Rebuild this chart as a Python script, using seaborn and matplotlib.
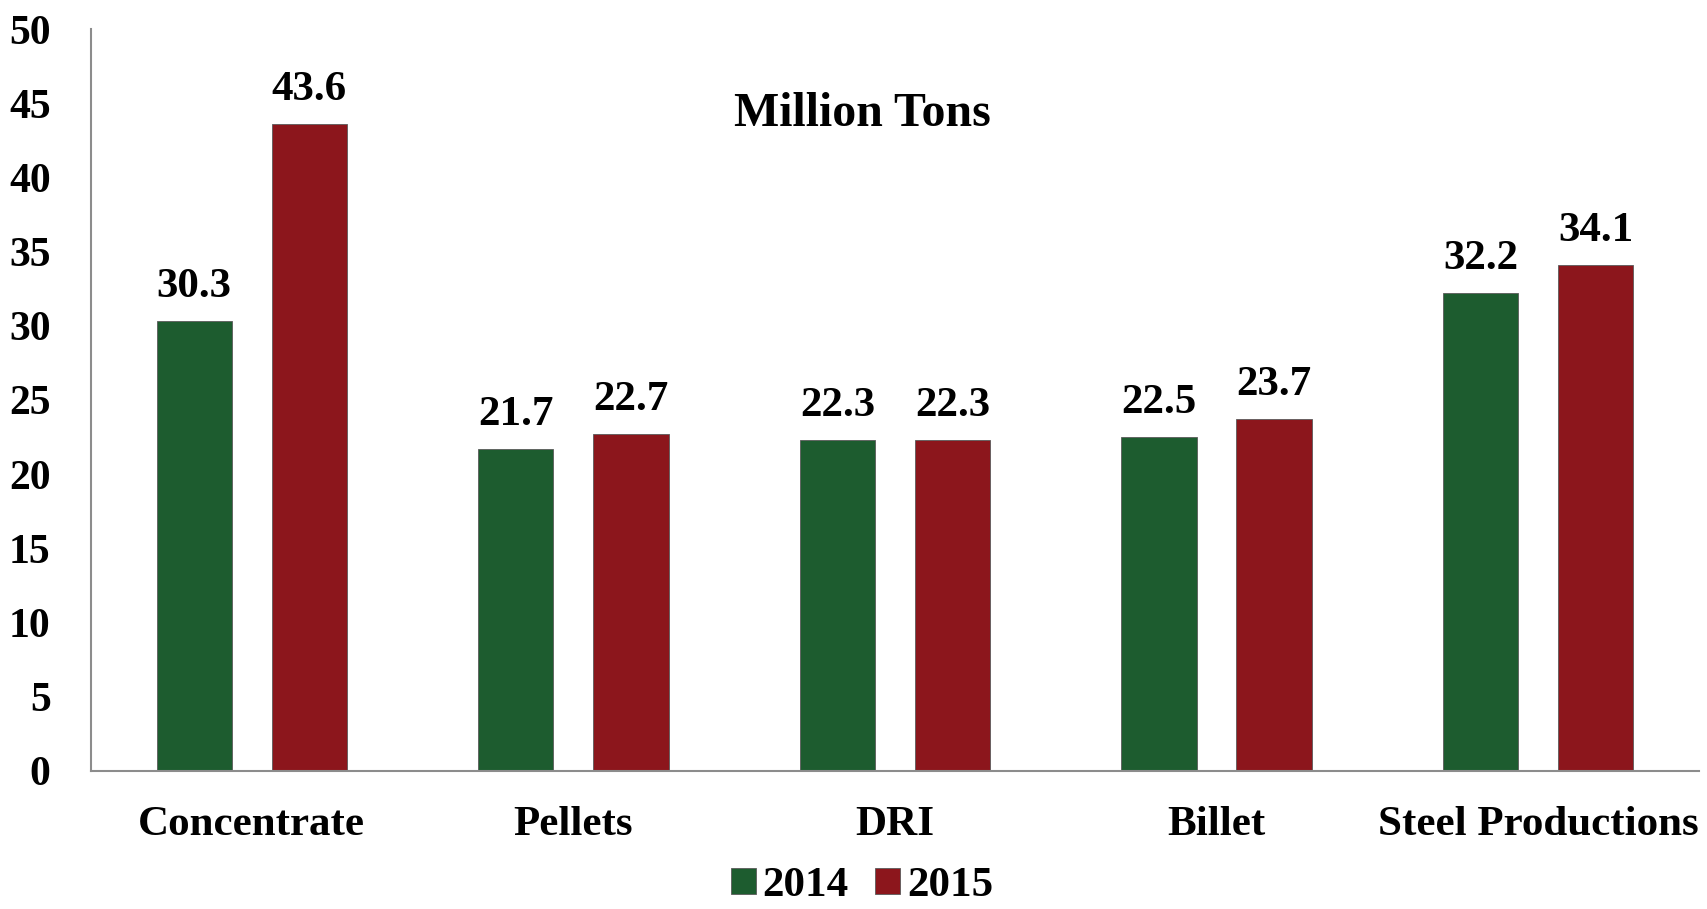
import pandas as pd
import seaborn as sns
import matplotlib.pyplot as plt

# Data (million tons)
categories = ['Concentrate', 'Pellets', 'DRI', 'Billet', 'Steel Productions']
years = ['2014', '2015']
values_2014 = [30.3, 21.7, 22.3, 22.5, 32.2]
values_2015 = [43.6, 22.7, 22.3, 23.7, 34.1]
y_ticks = [0, 5, 10, 15, 20, 25, 30, 35, 40, 45, 50]

df = pd.DataFrame({
    'category': categories * 2,
    'year': [years[0]] * len(categories) + [years[1]] * len(categories),
    'value': values_2014 + values_2015,
})

sns.set_style('white')
plt.rcParams['font.family'] = ['Liberation Serif', 'DejaVu Serif']
plt.rcParams['font.weight'] = 'bold'
plt.rcParams['text.color'] = 'black'
plt.rcParams['xtick.color'] = 'black'
plt.rcParams['ytick.color'] = 'black'

colors = {'2014': '#1d5c2f', '2015': '#8c161c'}

fig = plt.figure(figsize=(17.07, 9.09), dpi=100)
ax = fig.add_axes([0.0533, 0.152, 0.942, 0.816])

sns.barplot(data=df, x='category', y='value', hue='year', palette=colors,
            width=0.716, gap=0.346, edgecolor='#5a5a5a', linewidth=0.6,
            saturation=1, ax=ax)

for cont in ax.containers:
    ax.bar_label(cont, fmt='%.1f', padding=11, fontsize=31,
                 fontweight='bold', color='black')

ax.set_ylim(0, 50)
ax.set_xlim(-0.5, 4.5)
ax.set_yticks(y_ticks)
ax.set_xlabel('')
ax.set_ylabel('')
ax.tick_params(axis='y', labelsize=30, length=0, pad=29)
ax.tick_params(axis='x', labelsize=31, length=0, pad=25)
for lab in ax.get_xticklabels() + ax.get_yticklabels():
    lab.set_fontweight('bold')

for side in ['top', 'right']:
    ax.spines[side].set_visible(False)
ax.spines['left'].set_color('#8c8c8c')
ax.spines['bottom'].set_color('#8c8c8c')
ax.spines['left'].set_linewidth(1.5)
ax.spines['bottom'].set_linewidth(1.5)

ax.text(0.48, 0.885, 'Million Tons', transform=ax.transAxes, ha='center',
        va='center', fontsize=34.5, fontweight='bold')

handles, labels = ax.get_legend_handles_labels()
ax.get_legend().remove()
fig.legend(handles, labels, loc='center', bbox_to_anchor=(0.505, 0.025),
           ncol=2, frameon=False, fontsize=31, handlelength=0.58,
           handleheight=0.58, handletextpad=0.15, columnspacing=0.62,
           borderpad=0.1)

fig.savefig('out.png', dpi=100)
